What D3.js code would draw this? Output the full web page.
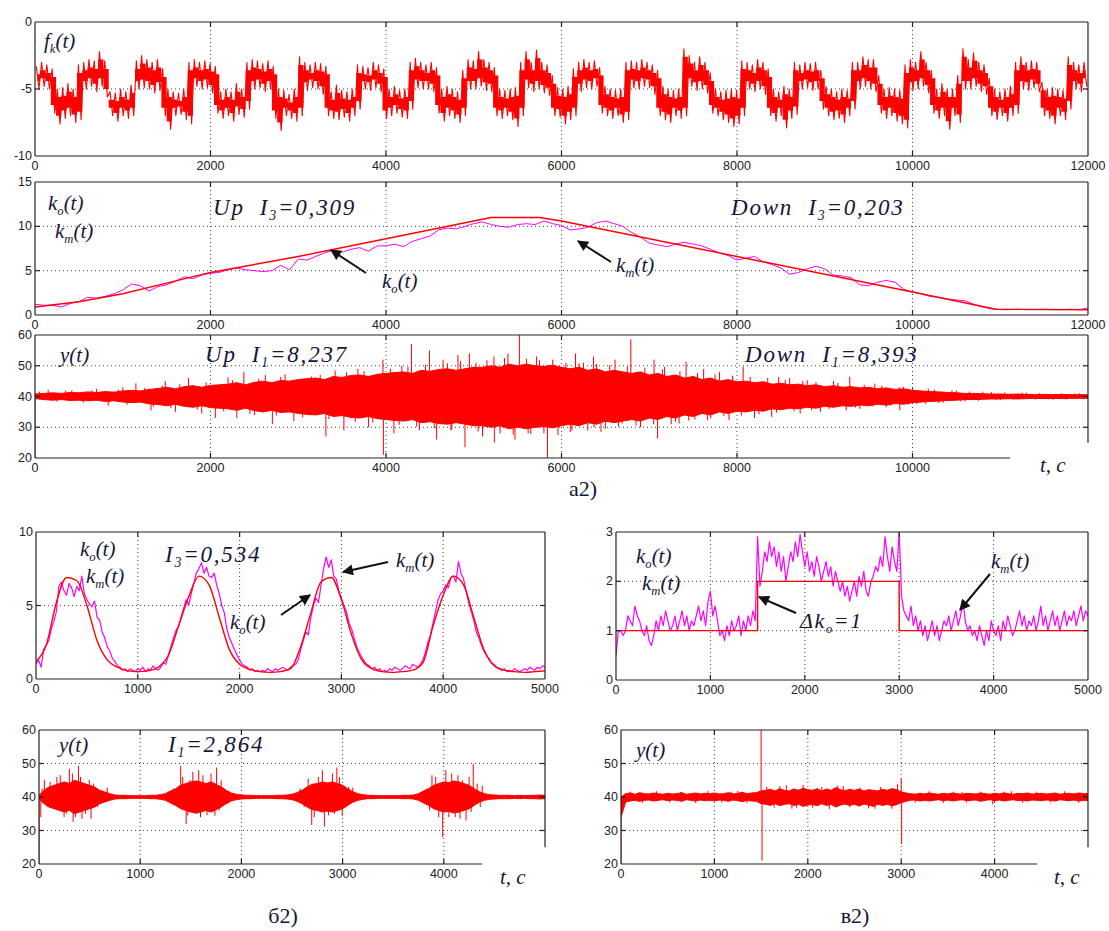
<!DOCTYPE html>
<html>
<head>
<meta charset="utf-8">
<script src="https://cdn.jsdelivr.net/npm/d3@7"></script>
<style>
	body { margin: 0; background: #fff; }
	svg { display: block; }
	.tickLabel { font-family: "Liberation Sans", Arial, sans-serif; font-size: 12.5px; fill: #222; }
	.note { font-family: "Liberation Serif", "Times New Roman", serif; font-style: italic; fill: #16163a; }
	.caption { font-family: "Liberation Serif", "Times New Roman", serif; font-size: 22px; fill: #16163a; }
</style>
</head>
<body>
<svg id="svg" width="1109" height="931"></svg>
<script>
"use strict";

// ---- data ----

// f_k(t): hi / lo of the noise in 60 s bins, 0..12000
const fkBin = 60;
const fkHi = [
	-3.3,-3.0,-3.2,-3.5,-5.0,-4.9,-4.6,-5.0,-3.2,-3.0,
	-2.8,-2.9,-2.2,-2.9,-5.2,-5.3,-5.0,-5.2,-4.7,-2.9,
	-2.5,-2.8,-3.0,-2.8,-3.5,-5.0,-5.2,-5.3,-5.0,-3.0,
	-2.8,-3.0,-2.9,-3.1,-3.3,-5.2,-5.0,-5.2,-4.6,-5.0,
	-3.0,-2.8,-2.9,-3.1,-2.9,-3.3,-5.0,-5.1,-5.4,-5.0,
	-2.6,-3.0,-3.2,-3.0,-3.1,-3.3,-5.2,-4.7,-5.1,-5.2,
	-5.0,-3.2,-3.3,-3.4,-3.0,-3.2,-3.5,-5.0,-4.8,-5.1,
	-5.0,-3.0,-2.7,-3.0,-3.2,-3.0,-3.4,-5.0,-4.8,-5.0,
	-5.2,-3.6,-2.8,-2.9,-2.2,-2.8,-3.0,-3.4,-5.0,-5.1,
	-5.0,-4.9,-3.0,-2.2,-3.0,-2.1,-3.0,-3.2,-4.0,-4.9,
	-5.0,-4.8,-3.5,-3.0,-2.8,-3.0,-2.9,-3.4,-4.8,-5.0,
	-5.1,-5.0,-3.0,-2.9,-3.0,-2.8,-3.0,-3.2,-3.6,-4.8,
	-5.0,-5.1,-5.0,-2.0,-2.5,-3.0,-2.6,-3.0,-3.8,-5.0,
	-5.2,-5.1,-5.0,-5.1,-2.9,-3.0,-3.2,-2.8,-3.0,-3.5,
	-5.0,-5.2,-4.8,-5.0,-3.0,-3.2,-3.0,-3.1,-3.0,-3.6,
	-4.8,-5.0,-5.2,-5.0,-5.1,-3.0,-3.0,-2.6,-2.8,-2.8,
	-4.0,-5.0,-4.9,-5.0,-5.1,-3.2,-2.8,-3.0,-2.2,-3.0,
	-3.6,-5.0,-4.6,-5.0,-5.0,-4.0,-2.0,-2.8,-2.3,-3.0,
	-3.2,-4.2,-5.0,-5.2,-5.0,-4.8,-3.0,-2.6,-3.0,-2.9,
	-3.0,-4.5,-5.0,-4.9,-5.0,-5.1,-2.6,-3.0,-3.2,-3.0
];
const fkLo = [
	-5.0,-4.8,-5.0,-6.8,-7.6,-7.2,-7.0,-7.5,-7.3,-5.0,
	-4.8,-5.2,-4.8,-5.6,-7.0,-7.4,-7.0,-7.2,-7.0,-5.0,
	-4.9,-5.0,-5.3,-5.1,-7.0,-8.0,-7.0,-6.9,-7.3,-7.6,
	-4.8,-5.0,-4.9,-5.3,-6.8,-7.2,-7.0,-7.4,-6.9,-7.1,
	-6.5,-5.0,-4.9,-5.2,-5.0,-7.2,-8.1,-7.0,-7.2,-7.4,
	-7.0,-5.1,-4.9,-5.0,-5.4,-7.0,-7.2,-7.3,-7.1,-7.4,
	-7.0,-6.5,-5.0,-5.1,-4.9,-5.2,-7.2,-7.0,-6.8,-7.1,
	-7.2,-6.5,-4.9,-5.0,-5.0,-5.2,-6.8,-7.4,-7.0,-7.2,
	-7.5,-7.0,-5.0,-5.0,-4.8,-5.1,-5.2,-7.0,-7.2,-7.0,
	-7.3,-7.8,-7.0,-4.9,-5.2,-5.0,-5.3,-5.5,-7.0,-7.1,
	-7.6,-7.3,-7.0,-5.2,-4.9,-5.0,-4.8,-6.8,-7.0,-7.2,
	-7.0,-7.5,-7.3,-4.9,-5.0,-4.8,-4.9,-5.4,-7.0,-7.3,
	-7.5,-7.0,-7.2,-7.0,-4.8,-5.1,-5.0,-5.3,-6.8,-7.0,
	-7.3,-7.5,-7.8,-7.6,-7.0,-5.0,-5.2,-5.0,-5.4,-7.0,
	-7.4,-7.0,-7.9,-7.2,-6.9,-5.0,-4.9,-5.1,-5.0,-6.5,
	-7.0,-7.3,-7.2,-7.5,-7.0,-6.5,-5.0,-4.8,-5.0,-5.2,
	-6.8,-7.2,-7.0,-7.4,-7.6,-7.9,-5.1,-5.0,-4.8,-5.3,
	-6.8,-7.2,-7.0,-8.0,-7.0,-7.5,-5.0,-5.0,-4.8,-5.2,
	-5.4,-7.0,-7.3,-7.0,-7.4,-7.0,-6.8,-5.0,-5.1,-4.9,
	-5.2,-7.0,-7.2,-7.6,-7.0,-7.3,-6.5,-5.0,-5.2,-4.8
];

// k_o(t) (red) breakpoints and k_m(t) (magenta, every 100 s), top chart
const koTopT = [0, 500, 1000, 1500, 2000, 3000, 4000, 5000, 5200, 5750, 6000, 8000, 10000, 10950, 12000];
const koTopV = [0.9, 1.5, 2.4, 3.6, 4.8, 6.6, 8.6, 10.6, 11, 11, 10.6, 6.6, 2.6, 0.65, 0.6];
const kmTopStep = 100;
const kmTop = [
	1.2, 1.1, 1.1, 0.9, 1.3, 1.5, 2.0, 1.9, 2.1, 2.4,
	2.8, 3.5, 3.3, 2.7, 3.2, 3.4, 3.8, 4.3, 4.1, 4.5,
	4.7, 4.8, 5.1, 5.3, 5.1, 5.0, 4.9, 5.0, 5.6, 5.1,
	6.3, 6.2, 6.6, 7.0, 7.3, 7.1, 7.4, 7.6, 7.2, 7.8,
	7.8, 8.0, 7.7, 8.3, 8.6, 8.9, 9.6, 9.8, 9.7, 10.0,
	10.3, 10.5, 10.2, 10.0, 9.9, 10.2, 10.3, 10.2, 10.6, 10.3,
	10.1, 9.6, 9.7, 9.9, 10.4, 10.6, 10.3, 10.0, 9.3, 8.8,
	8.1, 7.9, 7.7, 8.0, 8.2, 8.0, 7.8, 7.4, 7.0, 6.7,
	6.2, 6.4, 6.6, 6.0, 5.7, 5.3, 4.6, 4.8, 5.2, 5.5,
	5.2, 4.5, 4.4, 4.2, 3.4, 3.3, 3.7, 3.9, 3.7, 2.9,
	2.6, 2.4, 2.1, 2.0, 1.8, 1.7, 1.6, 1.2, 0.9, 0.7,
	0.6, 0.6, 0.65, 0.6, 0.6, 0.65, 0.6, 0.6, 0.65, 0.6,
	0.8
];

// y(t) top chart: dense band (every 100 s), long spikes and short fuzz [t, value]
const yTopStep = 100;
const yTopHi = [
	40.8, 41.0, 41.2, 41.0, 41.3, 41.2, 41.5, 41.3, 41.6, 41.4, 41.8,
	42.0, 41.8, 42.3, 42.6, 43.0, 42.5, 43.2, 43.5, 43.0, 43.6,
	43.8, 44.0, 44.5, 43.8, 44.6, 45.0, 44.5, 45.2, 45.0, 45.5,
	45.8, 46.0, 45.5, 46.5, 46.2, 46.8, 47.0, 46.5, 47.2, 47.5,
	47.8, 48.0, 47.5, 48.5, 48.2, 48.8, 49.0, 48.5, 49.0, 49.5,
	49.5, 50.0, 49.5, 50.5, 50.0, 50.5, 50.0, 49.8, 50.2, 49.5,
	49.0, 49.5, 48.5, 49.0, 48.0, 48.5, 48.0, 47.5, 48.0, 47.0,
	47.5, 46.5, 47.0, 46.0, 46.5, 45.5, 46.0, 45.0, 45.5, 44.8,
	45.0, 44.5, 44.8, 44.0, 44.3, 43.8, 44.0, 43.5, 43.8, 43.2,
	43.5, 43.0, 43.2, 42.8, 43.0, 42.5, 42.8, 42.3, 42.5, 42.0,
	41.8, 41.6, 41.5, 41.3, 41.2, 41.0, 41.0, 40.9, 40.8, 40.8,
	40.7, 40.8, 40.7, 40.6, 40.7, 40.6, 40.7, 40.6, 40.6, 40.6
];
const yTopLo = [
	39.3, 39.0, 38.8, 39.0, 38.7, 38.8, 38.6, 38.8, 38.4, 38.6, 38.2,
	38.0, 38.2, 37.6, 37.4, 37.0, 37.5, 36.8, 36.5, 37.0, 36.4,
	36.2, 36.0, 35.5, 36.2, 35.4, 35.0, 35.5, 34.8, 35.0, 34.5,
	34.2, 34.0, 34.5, 33.5, 33.8, 33.2, 33.0, 33.5, 32.8, 32.5,
	32.2, 32.0, 32.5, 31.5, 31.8, 31.2, 31.0, 31.5, 31.0, 30.5,
	30.5, 30.0, 30.5, 29.5, 30.0, 29.5, 30.0, 30.2, 29.8, 30.5,
	31.0, 30.5, 31.5, 31.0, 32.0, 31.5, 32.0, 32.5, 32.0, 33.0,
	32.5, 33.5, 33.0, 34.0, 33.5, 34.5, 34.0, 35.0, 34.5, 35.2,
	35.0, 35.5, 35.2, 36.0, 35.7, 36.2, 36.0, 36.5, 36.2, 36.8,
	36.5, 37.0, 36.8, 37.2, 37.0, 37.5, 37.2, 37.7, 37.5, 38.0,
	38.2, 38.4, 38.5, 38.7, 38.8, 39.0, 39.0, 39.1, 39.2, 39.2,
	39.3, 39.2, 39.3, 39.4, 39.3, 39.4, 39.3, 39.4, 39.4, 39.4
];
const yTopSpikes = [
	[0, 20], [150, 42.2], [420, 42.0], [700, 42.5], [834, 37], [1000, 43], [1150, 44.3], [1322, 35.5],
	[1485, 45], [1600, 35.0], [1750, 46], [1900, 34.5], [2055, 33], [2200, 46.2], [2300, 33], [2380, 48],
	[2500, 34], [2625, 47], [2705, 31], [2850, 47.2], [2950, 32], [3150, 46.5], [3315, 27], [3420, 48.5],
	[3520, 29], [3680, 49], [3800, 30], [3965, 52], [3970, 21], [4090, 28], [4180, 50], [4290, 57],
	[4380, 29], [4495, 55], [4577, 26], [4650, 52], [4740, 29], [4820, 53.5], [4900, 23.5], [4950, 54],
	[5025, 51], [5100, 27], [5230, 53], [5235, 25], [5390, 54], [5470, 26], [5520, 60], [5620, 28],
	[5716, 53], [5840, 20], [5900, 52], [5960, 27.4], [6120, 29], [6160, 54], [6250, 51], [6365, 53],
	[6370, 30], [6450, 28.5], [6610, 52], [6690, 31.2], [6790, 58.6], [6900, 30], [7055, 52], [7095, 26.3],
	[7175, 49.7], [7250, 31], [7340, 31.2], [7420, 51.3], [7520, 32.5], [7620, 49], [7665, 32.3], [7800, 48],
	[7910, 32.3], [8070, 49.7], [8200, 33], [8395, 33.4], [8475, 46.4], [8600, 46], [8720, 34.5], [8800, 45.3],
	[8950, 35], [9100, 45], [9245, 35.5], [9285, 46.4], [9400, 36], [9570, 44.2], [9700, 36.5], [9855, 35.5],
	[9895, 43.2], [10050, 37.5], [10180, 42.6], [10300, 37.8], [10450, 42], [10600, 38.4], [10800, 41.6],
	[11000, 38.8], [11300, 41.2], [11600, 38.9], [11900, 41.1]
];
const yTopFuzz = [
	[50, 41.6], [250, 38.3], [350, 41.9], [550, 38.0], [650, 42.0], [850, 38.1], [950, 42.2], [1050, 37.4],
	[1250, 42.8], [1350, 36.8], [1450, 43.5], [1550, 36.2], [1650, 44.0], [1850, 35.8], [1950, 44.6], [2150, 35.2],
	[2250, 45.3], [2450, 34.4], [2550, 45.8], [2750, 33.8], [2800, 46.3], [3050, 33.2], [3250, 47.0], [3350, 32.6],
	[3550, 47.8], [3650, 31.8], [3750, 48.2], [3850, 31.5], [4050, 49.0], [4150, 30.8], [4250, 49.6], [4350, 30.2],
	[4450, 50.3], [4550, 29.6], [4700, 50.8], [4750, 29.2], [4850, 51.5], [5050, 28.6], [5150, 51.8], [5300, 28.0],
	[5350, 52.5], [5450, 27.6], [5600, 52.3], [5650, 27.8], [5750, 51.8], [5800, 28.0], [6050, 51.0], [6100, 28.4],
	[6200, 50.8], [6300, 29.0], [6400, 50.6], [6500, 29.5], [6550, 50.2], [6650, 30.2], [6750, 49.8], [6850, 30.6],
	[6950, 49.4], [7050, 31.0], [7150, 48.8], [7300, 31.8], [7350, 48.2], [7450, 32.2], [7550, 47.6], [7700, 33.0],
	[7750, 47.2], [7850, 33.6], [7950, 46.8], [8050, 33.8], [8150, 46.4], [8250, 34.2], [8350, 46.0], [8450, 34.8],
	[8550, 45.4], [8650, 35.2], [8750, 45.0], [8850, 35.6], [8900, 44.6], [9050, 36.0], [9150, 44.4], [9350, 36.4],
	[9450, 43.8], [9550, 36.8], [9650, 43.5], [9750, 37.0], [9850, 43.0], [9950, 37.3], [10000, 42.8], [10150, 37.6],
	[10250, 42.2], [10350, 38.0], [10500, 41.9], [10550, 38.4], [10650, 41.6], [10750, 38.6], [10900, 41.4], [10950, 38.8],
	[11050, 41.3], [11150, 39.0], [11250, 41.2], [11400, 39.0], [11450, 41.1], [11550, 39.1], [11700, 41.0], [11750, 39.0],
	[11850, 41.0], [11950, 39.1]
];

// bottom left: k_o(t) every 100 s, k_m(t) every 25 s
const koLeftStep = 100;
const koLeft = [
	1.2, 2.3, 5.2, 6.9, 6.7, 5.0, 2.6, 1.3, 0.8, 0.55,
	0.5, 0.55, 0.8, 1.6, 3.6, 5.6, 7.0, 6.4, 4.2, 2.0,
	1.0, 0.65, 0.5, 0.45, 0.5, 0.7, 2.2, 4.5, 6.6, 6.9,
	5.4, 3.0, 1.3, 0.7, 0.5, 0.45, 0.5, 0.6, 1.1, 3.6,
	5.7, 7.0, 6.4, 4.2, 2.0, 0.9, 0.6, 0.5, 0.45, 0.5,
	0.55
];
const kmLeftStep = 25;
const kmLeft = [
	1.0, 1.3, 0.8, 2.0, 2.3, 2.6, 3.4, 3.9,
	4.6, 6.3, 6.6, 6.0, 5.7, 6.5, 6.2, 5.6,
	6.3, 6.0, 7.0, 5.8, 5.4, 5.1, 4.9, 5.3,
	4.2, 4.0, 3.2, 2.8, 2.2, 1.9, 1.4, 1.2,
	0.9, 0.8, 0.6, 0.7, 0.5, 0.7, 0.6, 0.5,
	0.7, 0.6, 0.8, 0.5, 0.7, 0.6, 0.9, 0.7,
	0.6, 0.8, 1.1, 1.0, 1.6, 2.2, 2.8, 3.3,
	3.6, 4.2, 4.8, 5.4, 5.0, 5.8, 6.5, 7.2,
	7.5, 7.9, 7.2, 7.6, 7.0, 6.9, 7.2, 6.4,
	5.8, 5.0, 4.5, 3.4, 2.8, 2.4, 2.0, 1.6,
	1.3, 1.0, 0.9, 0.8, 0.6, 0.7, 0.5, 0.6,
	0.5, 0.6, 0.5, 0.7, 0.6, 0.5, 0.7, 0.6,
	0.7, 0.8, 0.7, 0.6, 0.8, 0.9, 1.0, 1.3,
	2.0, 2.6, 3.2, 3.0, 4.2, 5.0, 5.5, 5.2,
	6.4, 7.5, 8.3, 7.6, 8.1, 7.0, 6.8, 6.0,
	5.5, 5.0, 4.6, 3.8, 3.4, 2.8, 2.2, 1.8,
	1.5, 1.2, 1.0, 0.9, 0.7, 0.8, 0.6, 0.7,
	0.5, 0.6, 0.5, 0.7, 0.6, 0.8, 0.7, 0.6,
	0.7, 0.9, 0.8, 0.7, 1.0, 0.9, 0.8, 1.0,
	1.3, 1.8, 2.5, 3.0, 3.8, 4.6, 5.4, 5.8,
	6.0, 6.4, 6.2, 6.9, 7.0, 6.6, 8.0, 7.2,
	6.8, 6.0, 5.2, 4.6, 4.0, 3.2, 2.8, 2.3,
	1.9, 1.6, 1.4, 1.1, 1.0, 0.8, 0.7, 0.6,
	0.7, 0.5, 0.6, 0.5, 0.7, 0.6, 0.5, 0.6,
	0.7, 0.6, 0.8, 0.7, 0.6, 0.8, 0.7, 0.9, 0.8
];

// bottom right: step k_o(t) and k_m(t) every 25 s
const koRightT = [0, 1500, 1500, 3000, 3000, 5000];
const koRightV = [1, 1, 2, 2, 1, 1];
const kmRightStep = 25;
const kmRight = [
	0.5, 1.0, 1.0, 0.9, 1.0, 1.3, 1.2, 1.1,
	1.5, 1.3, 1.2, 1.0, 0.9, 1.1, 0.8, 0.7,
	0.9, 1.2, 1.0, 1.3, 1.1, 1.4, 1.2, 1.0,
	1.1, 1.3, 1.0, 1.2, 1.4, 1.1, 1.3, 1.0,
	1.2, 1.1, 1.3, 1.5, 1.2, 1.4, 1.1, 1.6,
	1.8, 1.3, 1.5, 1.2, 0.9, 1.0, 0.8, 1.1,
	0.9, 1.2, 1.0, 1.1, 1.3, 0.9, 1.2, 1.0,
	1.3, 1.1, 1.4, 1.2, 2.9, 1.9, 2.2, 2.6,
	2.4, 2.8, 2.5, 2.7, 2.3, 2.6, 2.2, 2.5,
	2.0, 2.3, 2.6, 2.4, 2.8, 2.5, 2.95, 2.6,
	2.3, 2.6, 2.2, 2.4, 2.1, 2.5, 2.3, 2.0,
	2.2, 2.4, 2.1, 2.3, 1.9, 2.2, 2.0, 1.8,
	2.0, 1.7, 1.9, 1.6, 1.8, 2.0, 1.7, 2.1,
	1.9, 2.2, 1.8, 1.7, 2.0, 2.1, 2.3, 2.2,
	2.5, 2.3, 2.9, 2.5, 2.2, 2.7, 2.4, 2.2,
	3.0, 1.7, 1.4, 1.3, 1.2, 1.5, 1.1, 1.3,
	1.0, 1.2, 0.9, 1.1, 0.8, 1.0, 1.2, 0.9,
	1.1, 0.8, 1.0, 1.2, 1.1, 1.3, 1.0, 1.2,
	1.4, 1.1, 1.3, 1.6, 1.2, 1.0, 1.1, 0.9,
	1.0, 0.8, 1.1, 0.9, 0.7, 1.0, 0.8, 1.2,
	1.0, 0.9, 1.1, 0.8, 1.2, 1.0, 1.3, 1.1,
	0.9, 1.0, 1.2, 1.4, 1.1, 1.3, 1.0, 1.2,
	1.1, 1.3, 1.0, 1.2, 1.5, 1.1, 1.3, 1.0,
	1.2, 1.4, 1.1, 1.3, 1.0, 1.2, 1.4, 1.1,
	1.3, 1.2, 1.4, 1.1, 1.3, 1.5, 1.2, 1.4, 1.3
];

// bottom y(t) charts: band every 50 s, spikes and fuzz
const yBotStep = 50;
const yLeftHi = [
	40.5, 42.0, 43.0, 43.5, 44.0, 44.5, 44.0, 45.0, 44.5, 44.0,
	43.5, 43.0, 42.0, 41.5, 41.0, 40.6, 40.5, 40.5, 40.4, 40.4,
	40.4, 40.4, 40.5, 40.5, 40.7, 41.0, 41.8, 42.5, 43.5, 44.0,
	44.5, 44.8, 44.5, 44.0, 44.5, 43.8, 43.0, 42.0, 41.2, 40.8,
	40.6, 40.5, 40.5, 40.4, 40.4, 40.4, 40.4, 40.5, 40.5, 40.6,
	40.8, 41.3, 42.0, 43.0, 43.8, 44.0, 44.5, 44.2, 44.5, 44.0,
	43.5, 42.5, 41.6, 41.0, 40.7, 40.5, 40.5, 40.4, 40.4, 40.4,
	40.4, 40.4, 40.5, 40.5, 40.6, 41.0, 41.8, 42.5, 43.5, 44.0,
	44.5, 44.3, 44.8, 44.5, 44.0, 43.5, 42.5, 41.6, 41.0, 40.7,
	40.6, 40.5, 40.5, 40.5, 40.4, 40.5, 40.4, 40.5, 40.5, 40.6, 40.5
];
const yLeftLo = [
	39.5, 38.0, 37.0, 36.5, 36.0, 35.5, 36.0, 35.0, 35.5, 36.0,
	36.5, 37.0, 38.0, 38.5, 39.0, 39.4, 39.5, 39.5, 39.6, 39.6,
	39.6, 39.6, 39.5, 39.5, 39.3, 39.0, 38.2, 37.5, 36.5, 36.0,
	35.5, 35.2, 35.5, 36.0, 35.5, 36.2, 37.0, 38.0, 38.8, 39.2,
	39.4, 39.5, 39.5, 39.6, 39.6, 39.6, 39.6, 39.5, 39.5, 39.4,
	39.2, 38.7, 38.0, 37.0, 36.2, 36.0, 35.5, 35.8, 35.5, 36.0,
	36.5, 37.5, 38.4, 39.0, 39.3, 39.5, 39.5, 39.6, 39.6, 39.6,
	39.6, 39.6, 39.5, 39.5, 39.4, 39.0, 38.2, 37.5, 36.5, 36.0,
	35.5, 35.7, 35.2, 35.5, 36.0, 36.5, 37.5, 38.4, 39.0, 39.3,
	39.4, 39.5, 39.5, 39.5, 39.6, 39.5, 39.6, 39.5, 39.5, 39.4, 39.5
];
const yLeftSpikes = [
	[0, 20], [18, 34], [53, 45.1], [177, 46], [248, 34], [300, 48.4], [337, 32.6], [390, 49.3],
	[425, 33.5], [496, 45.1], [514, 33.5], [674, 42.8], [1400, 49.3], [1454, 32], [1490, 45],
	[1578, 48], [1596, 34], [1738, 34.4], [1755, 48.8], [1826, 42.8], [2695, 31.6], [2800, 48],
	[2820, 31.2], [2943, 48.8], [2996, 34.4], [3100, 42.8], [3883, 46.5], [3989, 28], [4078, 47],
	[4113, 34], [4184, 45], [4220, 33], [4291, 49.8], [4380, 43.3]
];
const yLeftFuzz = [
	[30, 42.5], [80, 37.0], [110, 44.5], [140, 36.5], [210, 46.5], [270, 35.0], [330, 47.0], [360, 34.0],
	[410, 46.0], [460, 35.0], [540, 44.0], [580, 37.0], [620, 42.0], [1330, 42.5], [1380, 37.0], [1420, 46.0],
	[1470, 34.5], [1520, 47.5], [1550, 35.0], [1620, 46.5], [1660, 34.5], [1700, 47.0], [1780, 36.0], [1800, 45.0],
	[1860, 38.0], [2580, 42.5], [2620, 37.0], [2660, 45.5], [2720, 34.0], [2760, 46.0], [2860, 34.5], [2900, 47.0],
	[2920, 35.0], [2970, 46.0], [3030, 37.0], [3060, 43.0], [3830, 42.5], [3860, 36.0], [3920, 46.0], [3950, 34.0],
	[4020, 48.0], [4050, 34.0], [4140, 46.5], [4160, 33.5], [4250, 46.0], [4270, 35.5], [4330, 44.0], [4360, 37.0]
];
const yRightHi = [
	40.0, 41.0, 41.2, 40.8, 41.3, 41.0, 40.9, 41.2, 41.0, 40.8,
	41.1, 40.9, 41.0, 41.3, 40.8, 41.0, 41.2, 40.9, 41.1, 41.0,
	41.2, 40.9, 41.0, 41.3, 40.9, 41.1, 41.4, 41.0, 41.2, 41.3,
	41.8, 42.0, 42.3, 41.8, 42.5, 42.0, 41.8, 42.4, 42.0, 42.6,
	42.2, 42.0, 42.5, 41.8, 42.4, 42.0, 42.8, 42.2, 41.9, 42.3,
	42.0, 42.4, 41.8, 42.2, 42.0, 41.8, 42.3, 42.0, 42.5, 42.2,
	41.5, 41.2, 41.0, 40.8, 41.1, 40.9, 41.2, 41.0, 40.8, 41.1,
	40.9, 41.2, 41.0, 40.8, 41.1, 41.0, 40.9, 41.2, 41.0, 40.8,
	41.1, 40.9, 41.2, 41.0, 40.8, 41.1, 41.0, 41.2, 40.9, 41.0,
	41.1, 40.9, 41.0, 41.2, 40.8, 41.0, 41.1, 40.9, 41.2, 41.0, 41.1
];
const yRightLo = [
	34.0, 38.5, 38.8, 39.0, 38.7, 39.0, 39.1, 38.8, 39.0, 39.2,
	38.9, 39.1, 39.0, 38.7, 39.2, 39.0, 38.8, 39.1, 38.9, 39.0,
	38.8, 39.1, 39.0, 38.7, 39.1, 38.9, 38.6, 39.0, 38.8, 38.7,
	38.0, 37.8, 37.5, 38.0, 37.4, 37.8, 38.0, 37.5, 37.8, 37.2,
	37.6, 37.8, 37.4, 38.0, 37.5, 37.8, 37.0, 37.6, 37.9, 37.5,
	37.8, 37.3, 37.9, 37.6, 37.2, 37.8, 37.5, 37.8, 37.4, 37.7,
	38.3, 38.7, 39.0, 39.1, 38.8, 39.0, 38.8, 39.0, 39.2, 38.9,
	39.1, 38.8, 39.0, 39.2, 38.9, 39.0, 39.1, 38.7, 39.0, 39.2,
	38.9, 39.1, 38.8, 39.0, 39.2, 38.9, 39.0, 38.8, 39.1, 39.0,
	38.9, 39.1, 39.0, 38.8, 39.2, 39.0, 38.9, 39.1, 38.8, 39.0, 38.9
];
const yRightSpikes = [
	[0, 20], [1250, 41.8], [1500, 60], [1510, 21], [1770, 43.5], [1880, 36.8], [2380, 43.3],
	[2720, 36.5], [3000, 45.5], [3005, 26], [3650, 41.5], [3980, 37.8], [4100, 41.6]
];
const yRightFuzz = [
	[100, 41.6], [230, 38.3], [380, 41.7], [520, 38.4], [640, 41.5], [800, 38.2], [930, 41.8], [1080, 38.3],
	[1180, 41.6], [1350, 38.2], [1560, 43.0], [1640, 36.8], [1700, 43.2], [1830, 36.5], [1950, 43.6], [2050, 36.8],
	[2150, 43.0], [2230, 36.4], [2320, 43.4], [2450, 36.9], [2560, 42.8], [2650, 36.6], [2780, 43.0], [2900, 36.5],
	[2960, 43.8], [3150, 38.3], [3300, 41.7], [3450, 38.2], [3560, 41.6], [3700, 38.4], [3850, 41.6], [4000, 38.2],
	[4180, 41.7], [4300, 38.3], [4450, 41.6], [4600, 38.4], [4750, 41.7], [4900, 38.3]
];

// tick values
const ticksLong = [0, 2000, 4000, 6000, 8000, 10000, 12000];
const ticksShort = [0, 1000, 2000, 3000, 4000, 5000];
const ticksFk = [-10, -5, 0];
const ticksK = [0, 5, 10, 15];
const ticksY = [20, 30, 40, 50, 60];
const ticksK10 = [0, 5, 10];
const ticksK3 = [0, 1, 2, 3];

const RED = "#ff0000";
const MAGENTA = "#ff00ff";

// ---- drawing ----
const svg = d3.select("#svg");
const defs = svg.append("defs");
defs.append("marker")
	.attr("id", "arrowHead")
	.attr("viewBox", "0 0 10 10")
	.attr("refX", 9)
	.attr("refY", 5)
	.attr("markerWidth", 14)
	.attr("markerHeight", 11)
	.attr("markerUnits", "userSpaceOnUse")
	.attr("orient", "auto")
	.append("path")
	.attr("d", "M0,0 L10,5 L0,10 Z")
	.attr("fill", "#111");

let clipCount = 0;

// one MATLAB-like axes box with dotted grid and inward ticks
function panel(p) {
	const g = svg.append("g").attr("class", "panel");
	const x = d3.scaleLinear().domain(p.xDomain).range([p.x0, p.x1]);
	const y = d3.scaleLinear().domain(p.yDomain).range([p.y1, p.y0]);
	const bottomEnd = p.bottomEnd || p.x1;
	const rightEnd = p.rightEndValue !== undefined ? y(p.rightEndValue) : p.y1;
	const clip = "clip" + clipCount++;

	defs.append("clipPath")
		.attr("id", clip)
		.append("rect")
		.attr("x", p.x0)
		.attr("y", p.y0)
		.attr("width", p.x1 - p.x0)
		.attr("height", p.y1 - p.y0);

	const innerX = p.xTicks.filter((d) => d > p.xDomain[0] && d < p.xDomain[1]);
	const innerY = p.yTicks.filter((d) => d > p.yDomain[0] && d < p.yDomain[1]);

	// grid
	g.selectAll(".vgrid")
		.data(innerX)
		.enter()
		.append("line")
		.attr("x1", (d) => x(d))
		.attr("x2", (d) => x(d))
		.attr("y1", p.y0)
		.attr("y2", p.y1)
		.style("stroke", "#444")
		.style("stroke-width", "1px")
		.style("stroke-dasharray", "1,3");
	g.selectAll(".hgrid")
		.data(innerY)
		.enter()
		.append("line")
		.attr("x1", p.x0)
		.attr("x2", p.x1)
		.attr("y1", (d) => y(d))
		.attr("y2", (d) => y(d))
		.style("stroke", "#444")
		.style("stroke-width", "1px")
		.style("stroke-dasharray", "1,3");

	const data = g.append("g").attr("clip-path", `url(#${clip})`);

	// frame
	const frame = g.append("g").style("stroke", "#222").style("stroke-width", "1.2px");
	frame.append("line").attr("x1", p.x0).attr("x2", p.x1).attr("y1", p.y0).attr("y2", p.y0);
	frame.append("line").attr("x1", p.x0).attr("x2", p.x0).attr("y1", p.y0).attr("y2", p.y1);
	frame.append("line").attr("x1", p.x0).attr("x2", bottomEnd).attr("y1", p.y1).attr("y2", p.y1);
	frame.append("line").attr("x1", p.x1).attr("x2", p.x1).attr("y1", p.y0).attr("y2", rightEnd);

	// inward ticks
	const tl = 5;
	innerX.forEach((d) => {
		frame.append("line").attr("x1", x(d)).attr("x2", x(d)).attr("y1", p.y0).attr("y2", p.y0 + tl);
		if (x(d) <= bottomEnd)
			frame.append("line").attr("x1", x(d)).attr("x2", x(d)).attr("y1", p.y1).attr("y2", p.y1 - tl);
	});
	innerY.forEach((d) => {
		frame.append("line").attr("x1", p.x0).attr("x2", p.x0 + tl).attr("y1", y(d)).attr("y2", y(d));
		if (y(d) <= rightEnd)
			frame.append("line").attr("x1", p.x1).attr("x2", p.x1 - tl).attr("y1", y(d)).attr("y2", y(d));
	});

	// tick labels
	g.selectAll(".xlab")
		.data(p.xLabels || p.xTicks)
		.enter()
		.append("text")
		.attr("class", "tickLabel")
		.attr("x", (d) => x(d))
		.attr("y", p.y1 + 14)
		.attr("text-anchor", "middle")
		.text((d) => d);
	g.selectAll(".ylab")
		.data(p.yTicks)
		.enter()
		.append("text")
		.attr("class", "tickLabel")
		.attr("x", p.x0 - 3)
		.attr("y", (d) => y(d) + 4)
		.attr("text-anchor", "end")
		.text((d) => d);

	return { x: x, y: y, data: data };
}

// italic label with subscripts: parts = [[text, isSub], ...]
function note(x, y, parts, size, spacing) {
	const t = svg.append("text")
		.attr("class", "note")
		.attr("x", x)
		.attr("y", y)
		.attr("font-size", size + "px")
		.attr("letter-spacing", (spacing || 0) + "px");
	let down = false;
	parts.forEach(([s, sub]) => {
		const span = t.append("tspan").text(s);
		if (sub && !down) {
			span.attr("dy", size * 0.22).attr("font-size", size * 0.6 + "px");
			down = true;
		} else if (sub) {
			span.attr("font-size", size * 0.6 + "px");
		} else if (down) {
			span.attr("dy", -size * 0.22);
			down = false;
		}
	});
}

function arrow(x1, y1, x2, y2) {
	svg.append("line")
		.attr("x1", x1)
		.attr("y1", y1)
		.attr("x2", x2)
		.attr("y2", y2)
		.style("stroke", "#111")
		.style("stroke-width", "2px")
		.attr("marker-end", "url(#arrowHead)");
}

function drawLine(pn, pts, color, width, curve) {
	pn.data.append("path")
		.datum(pts)
		.attr("d", d3.line().x((d) => pn.x(d[0])).y((d) => pn.y(d[1])).curve(curve || d3.curveLinear))
		.style("fill", "none")
		.style("stroke", color)
		.style("stroke-width", width + "px")
		.style("stroke-linejoin", "round");
}

function drawSpikes(pn, spikes, base) {
	pn.data.append("g")
		.selectAll("line")
		.data(spikes)
		.enter()
		.append("line")
		.attr("x1", (d) => pn.x(d[0]))
		.attr("x2", (d) => pn.x(d[0]))
		.attr("y1", pn.y(base))
		.attr("y2", (d) => pn.y(d[1]))
		.style("stroke", RED)
		.style("stroke-width", "1px");
}

function drawBand(pn, step, hi, lo, spikes, fuzz, base) {
	const pts = hi.map((h, i) => [i * step, h, lo[i]]);
	pn.data.append("path")
		.datum(pts)
		.attr("d", d3.area().x((d) => pn.x(d[0])).y0((d) => pn.y(d[2])).y1((d) => pn.y(d[1])))
		.style("fill", RED)
		.style("stroke", RED)
		.style("stroke-width", "1px");
	drawSpikes(pn, fuzz, base);
	drawSpikes(pn, spikes, base);
}

// -- a2: f_k(t)
const p1 = panel({ x0: 35, x1: 1088, y0: 22, y1: 156, xDomain: [0, 12000], yDomain: [-10, 0], xTicks: ticksLong, yTicks: ticksFk });
const fkPts = [];
fkHi.forEach((h, i) => {
	fkPts.push([i * fkBin + fkBin * 0.25, h]);
	fkPts.push([i * fkBin + fkBin * 0.75, fkLo[i]]);
});
// solid core of the noise band, a little inside the extremes
p1.data.append("path")
	.datum(fkHi.map((h, i) => [i * fkBin + fkBin / 2, h, fkLo[i]]))
	.attr("d", d3.area().x((d) => p1.x(d[0])).y1((d) => p1.y(d[1] - 0.6)).y0((d) => p1.y(d[2] + 0.6)).curve(d3.curveStep))
	.style("fill", RED);
drawLine(p1, fkPts, RED, 1.1);
note(44, 48, [["f"], ["k", true], ["(t)"]], 21);

// -- a2: k_o(t), k_m(t)
const p2 = panel({ x0: 35, x1: 1088, y0: 182, y1: 315, xDomain: [0, 12000], yDomain: [0, 15], xTicks: ticksLong, yTicks: ticksK });
drawLine(p2, kmTop.map((v, i) => [i * kmTopStep, v]), MAGENTA, 1);
drawLine(p2, koTopT.map((t, i) => [t, koTopV[i]]), RED, 1.4);
note(48, 210, [["k"], ["o", true], ["(t)"]], 21);
note(55, 238, [["k"], ["m", true], ["(t)"]], 21);
note(213, 215, [["Up\u00a0\u00a0I"], ["3", true], ["=0,309"]], 23, 1.8);
note(731, 215, [["Down\u00a0\u00a0I"], ["3", true], ["=0,203"]], 23, 1.8);
arrow(366, 273, 331, 250);
note(382, 288, [["k"], ["o", true], ["(t)"]], 21);
arrow(611, 262, 578, 241);
note(616, 272, [["k"], ["m", true], ["(t)"]], 21);

// -- a2: y(t)
const p3 = panel({
	x0: 35, x1: 1088, y0: 335, y1: 458, xDomain: [0, 12000], yDomain: [20, 60],
	xTicks: ticksLong, yTicks: ticksY, xLabels: ticksLong.slice(0, 6), bottomEnd: 1010, rightEndValue: 25
});
drawBand(p3, yTopStep, yTopHi, yTopLo, yTopSpikes, yTopFuzz, 40);
note(60, 362, [["y(t)"]], 21);
note(205, 362, [["Up\u00a0\u00a0I"], ["1", true], ["=8,237"]], 23, 1.8);
note(745, 362, [["Down\u00a0\u00a0I"], ["1", true], ["=8,393"]], 23, 1.8);
note(1040, 472, [["t, c"]], 21);
svg.append("text").attr("class", "caption").attr("x", 583).attr("y", 496).attr("text-anchor", "middle").text("а2)");

// -- б2: k_o(t), k_m(t)
const p4 = panel({ x0: 36, x1: 545, y0: 532, y1: 679, xDomain: [0, 5000], yDomain: [0, 10], xTicks: ticksShort, yTicks: ticksK10 });
drawLine(p4, kmLeft.map((v, i) => [i * kmLeftStep, v]), MAGENTA, 1.2);
drawLine(p4, koLeft.map((v, i) => [i * koLeftStep, v]), RED, 1.4, d3.curveMonotoneX);
note(80, 556, [["k"], ["o", true], ["(t)"]], 21);
note(86, 583, [["k"], ["m", true], ["(t)"]], 21);
note(165, 562, [["I"], ["3", true], ["=0,534"]], 23, 1.8);
arrow(388, 562, 343, 572);
note(396, 567, [["k"], ["m", true], ["(t)"]], 21);
arrow(281, 615, 310, 595);
note(230, 629, [["k"], ["o", true], ["(t)"]], 21);

// -- в2: k_o(t), k_m(t)
const p5 = panel({ x0: 616, x1: 1088, y0: 532, y1: 680, xDomain: [0, 5000], yDomain: [0, 3], xTicks: ticksShort, yTicks: ticksK3 });
drawLine(p5, kmRight.map((v, i) => [i * kmRightStep, v]), MAGENTA, 1.2);
drawLine(p5, koRightT.map((t, i) => [t, koRightV[i]]), RED, 1.4);
note(636, 563, [["k"], ["o", true], ["(t)"]], 21);
note(642, 590, [["k"], ["m", true], ["(t)"]], 21);
note(800, 628, [["Δk"], ["o", true], ["=1"]], 22, 1.5);
arrow(796, 613, 759, 597);
note(991, 568, [["k"], ["m", true], ["(t)"]], 21);
arrow(990, 574, 960, 610);

// -- б2: y(t)
const p6 = panel({
	x0: 39, x1: 545, y0: 730, y1: 864, xDomain: [0, 5000], yDomain: [20, 60],
	xTicks: ticksShort, yTicks: ticksY, xLabels: ticksShort.slice(0, 5), bottomEnd: 482, rightEndValue: 25
});
drawBand(p6, yBotStep, yLeftHi, yLeftLo, yLeftSpikes, yLeftFuzz, 40);
note(59, 752, [["y(t)"]], 21);
note(168, 752, [["I"], ["1", true], ["=2,864"]], 23, 1.8);
note(500, 884, [["t, c"]], 21);
svg.append("text").attr("class", "caption").attr("x", 283).attr("y", 923).attr("text-anchor", "middle").text("б2)");

// -- в2: y(t)
const p7 = panel({
	x0: 621, x1: 1088, y0: 730, y1: 864, xDomain: [0, 5000], yDomain: [20, 60],
	xTicks: ticksShort, yTicks: ticksY, xLabels: ticksShort.slice(0, 5), bottomEnd: 1037, rightEndValue: 25
});
drawBand(p7, yBotStep, yRightHi, yRightLo, yRightSpikes, yRightFuzz, 40);
note(636, 757, [["y(t)"]], 21);
note(1054, 884, [["t, c"]], 21);
svg.append("text").attr("class", "caption").attr("x", 855).attr("y", 923).attr("text-anchor", "middle").text("в2)");
</script>
</body>
</html>
